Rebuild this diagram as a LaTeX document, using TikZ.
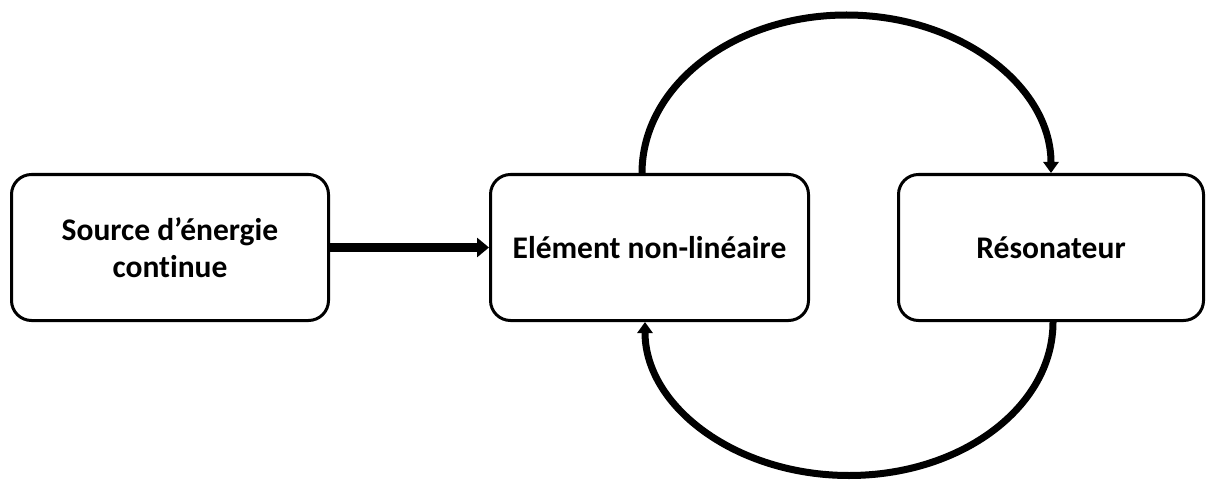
\documentclass[tikz,border=0pt]{standalone}
\usepackage{fontspec}
\setmainfont{Carlito}[Ligatures=NoCommon]
\usetikzlibrary{arrows.meta}
\begin{document}
\begin{tikzpicture}[x=1pt,y=1pt,
  box/.style={draw, line width=3pt, rounded corners=20pt, align=center,
    font=\fontsize{31.5}{37}\selectfont\bfseries, inner sep=0pt},
  bigarrow/.style={line width=9pt, -{Triangle[length=12pt,width=19pt]}},
  looparrow/.style={line width=7pt, -{Triangle[length=11pt,width=15pt]}}]
\useasboundingbox (0,0) rectangle (1214,480);
\node[box, minimum width=317pt, minimum height=146pt] (src) at (170,232.5) {Source d’énergie\\continue};
\node[box, minimum width=318pt, minimum height=146pt] (nl) at (649.5,232.5) {Elément non-linéaire};
\node[box, minimum width=305pt, minimum height=146pt] (res) at (1051,232.5) {Résonateur};
\draw[bigarrow] (src.east) -- (nl.west);
\draw[looparrow] ([xshift=-7.5pt]nl.north) arc[start angle=180, end angle=0, x radius=204.5, y radius=158];
\draw[looparrow] ([xshift=2pt]res.south) arc[start angle=0, end angle=-180, x radius=204, y radius=153.5];
\end{tikzpicture}
\end{document}
